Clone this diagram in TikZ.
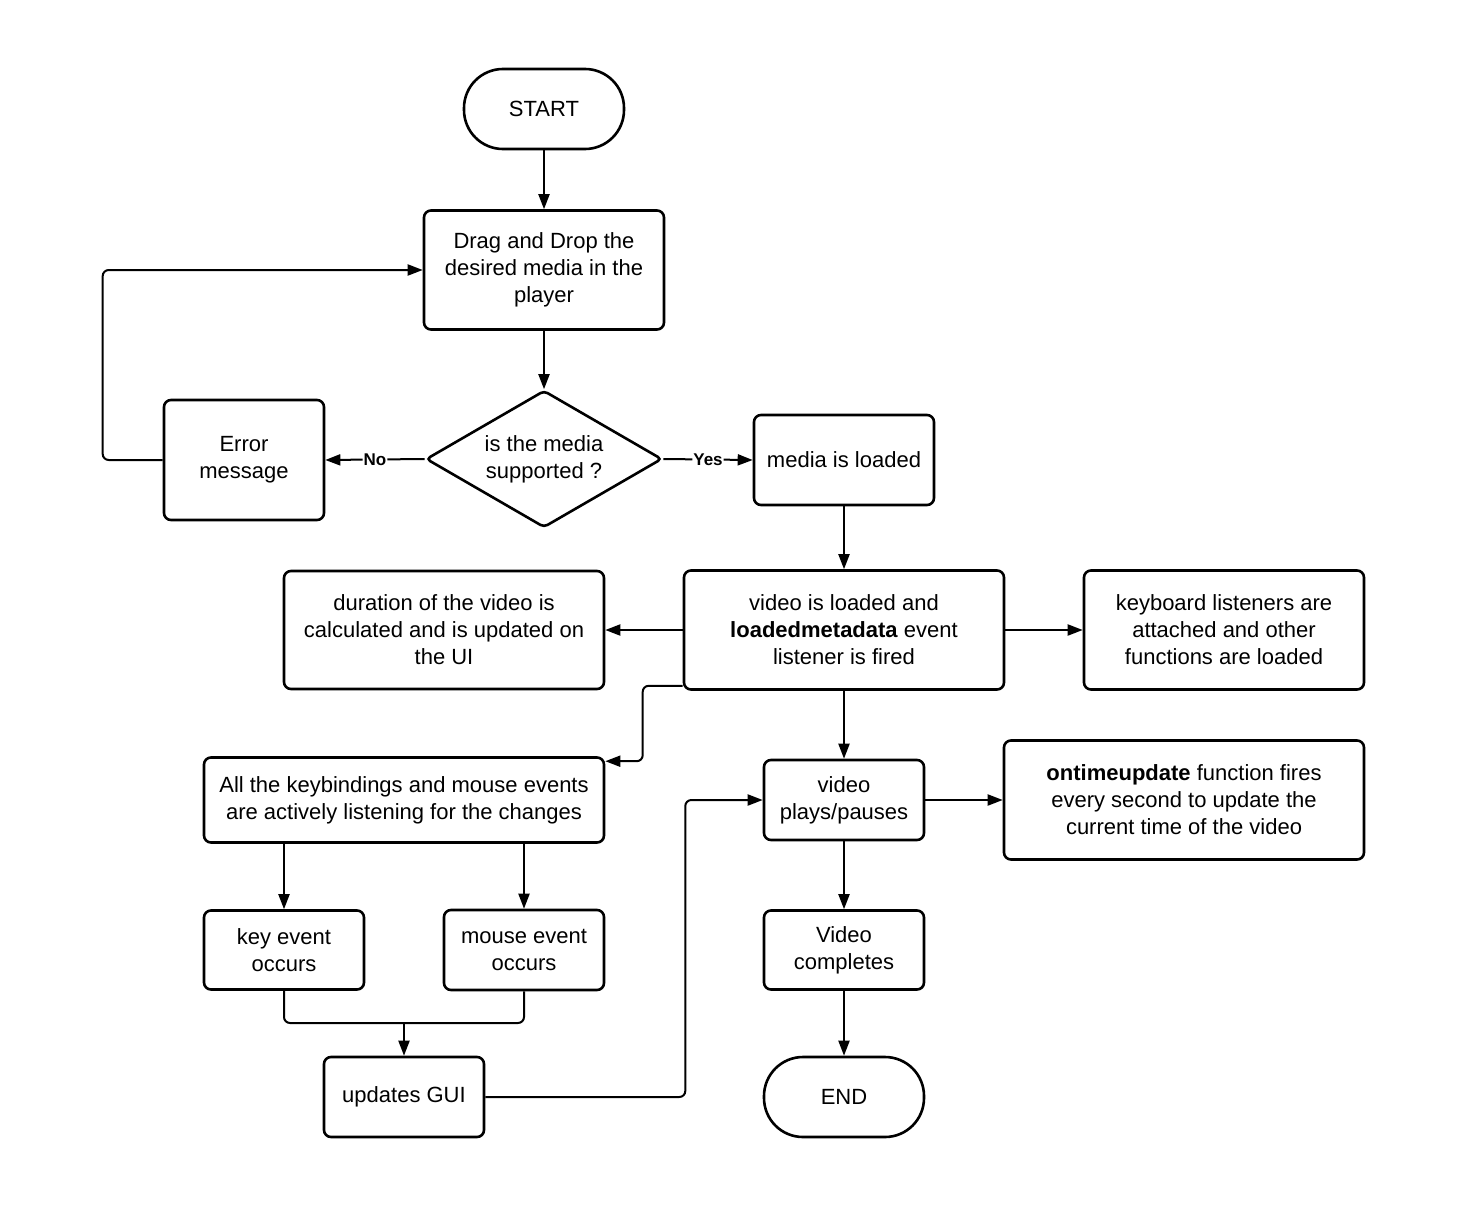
\documentclass[tikz,border=0pt]{standalone}
\usepackage{fontspec}
\setmainfont{Liberation Sans}
\usepackage{tikz}
\usetikzlibrary{arrows.meta,shapes.geometric}

\begin{document}
\begin{tikzpicture}[x=1pt,y=-1pt,
        font=\fontsize{22}{27}\selectfont,
        box/.style={draw,line width=2.6pt,rounded corners=7pt,align=center,inner sep=0pt},
        term/.style={box,rounded corners=39pt,minimum width=160pt,minimum height=80pt},
        decision/.style={draw,diamond,aspect=1.72,line width=2.6pt,rounded corners=4pt,align=center,inner sep=0pt,
            minimum width=236pt,minimum height=137pt},
        flow/.style={line width=2pt,rounded corners=6pt,-{Triangle[length=15pt,width=11pt]}},
        link/.style={line width=2pt,rounded corners=6pt},
        tag/.style={font=\fontsize{17}{20}\selectfont\bfseries,fill=white,inner sep=1pt}]
        \useasboundingbox (0,0) rectangle (1466,1215);

        \node[term] (start) at (544,109) {START};
        \node[box,minimum width=240pt,minimum height=119pt] (drag) at (544,270)
            {Drag and Drop the\\desired media in the\\player};
        \node[decision] (supp) at (544,459) {is the media\\supported ?};
        \node[box,minimum width=160pt,minimum height=120pt] (err) at (244,460) {Error\\message};
        \node[box,minimum width=180pt,minimum height=90pt] (loaded) at (844,460) {media is loaded};
        \node[box,minimum width=320pt,minimum height=119pt] (meta) at (844,630)
            {video is loaded and\\\textbf{loadedmetadata} event\\listener is fired};
        \node[box,minimum width=320pt,minimum height=118pt] (dur) at (444,630)
            {duration of the video is\\calculated and is updated on\\the UI};
        \node[box,minimum width=280pt,minimum height=119pt] (keys) at (1224,630)
            {keyboard listeners are\\attached and other\\functions are loaded};
        \node[box,minimum width=400pt,minimum height=85pt] (listen) at (404,800)
            {All the keybindings and mouse events\\are actively listening for the changes};
        \node[box,minimum width=160pt,minimum height=80pt] (play) at (844,800) {video\\plays/pauses};
        \node[box,minimum width=360pt,minimum height=119pt] (ontime) at (1184,800)
            {\textbf{ontimeupdate} function fires\\every second to update the\\current time of the video};
        \node[box,minimum width=160pt,minimum height=79pt] (keyev) at (284,950) {key event\\occurs};
        \node[box,minimum width=160pt,minimum height=80pt] (mouse) at (524,950) {mouse event\\occurs};
        \node[box,minimum width=160pt,minimum height=79pt] (done) at (844,950) {Video\\completes};
        \node[box,minimum width=160pt,minimum height=80pt] (gui) at (404,1097) {updates GUI};
        \node[term] (stop) at (844,1097) {END};
        \coordinate (join) at (404,1023);

        % main line
        \draw[flow] (start) -- (drag);
        \draw[flow] (drag) -- (supp);
        \draw[flow] (supp.west) -- node[tag] {No} (err.east);
        \draw[flow] (supp.east) -- node[tag] {Yes} (loaded.west);
        \draw[flow] (err.west) -- ++(-60,0) |- (drag.west);
        \draw[flow] (loaded) -- (meta);
        \draw[flow] (meta.west) -- (dur.east);
        \draw[flow] (meta.east) -- (keys.west);
        \draw[flow] ([yshift=5pt]meta.south west) -- ++(-40,0) |- ([yshift=-5pt]listen.north east);
        \draw[flow] (meta) -- (play);
        \draw[flow] (play) -- (ontime);
        \draw[flow] (play) -- (done);
        \draw[flow] (done) -- (stop);

        % events
        \draw[flow] (listen.south -| keyev) -- (keyev);
        \draw[flow] (listen.south -| mouse) -- (mouse);
        \draw[link] (keyev.south) |- (join);
        \draw[link] (mouse.south) |- (join);
        \draw[flow] (join) -- (gui);
        \draw[flow] (gui.east) -- ++(200,0) |- (play.west);
    \end{tikzpicture}
\end{document}
